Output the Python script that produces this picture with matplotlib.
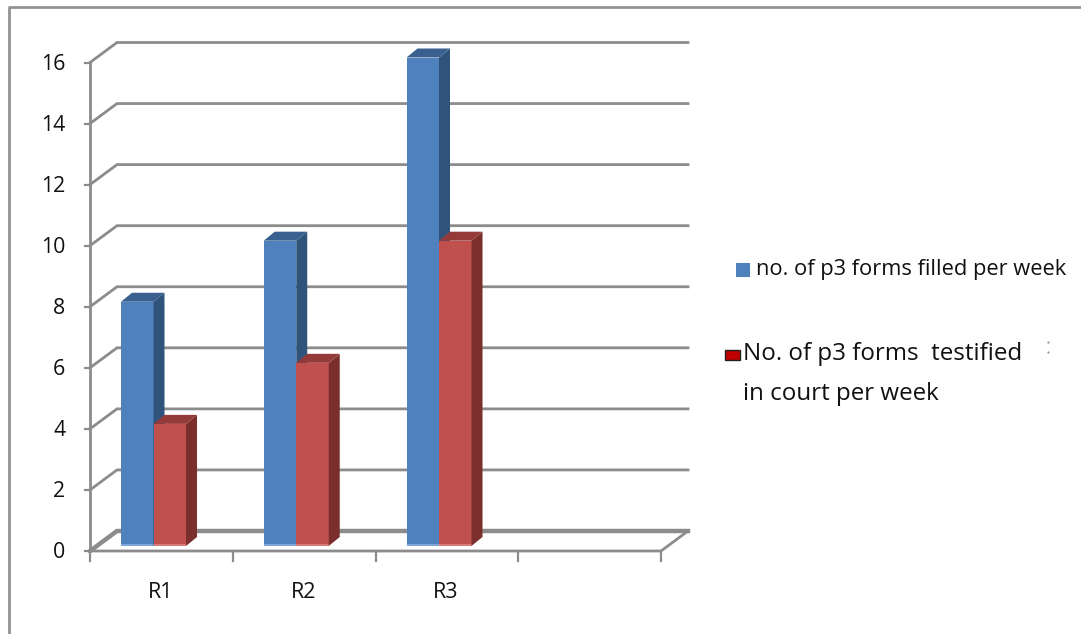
import matplotlib
matplotlib.use("Agg")
import matplotlib.pyplot as plt
from matplotlib.patches import Polygon, Rectangle

categorias = ["R1", "R2", "R3", ""]
preenchidos = [8, 10, 16]
testemunhados = [4, 6, 10]
y_ticks = [0, 2, 4, 6, 8, 10, 12, 14, 16]
legenda_1 = "no. of p3 forms filled per week"
legenda_2 = "No. of p3 forms  testified"
legenda_2b = "in court per week"

plt.rcParams["font.family"] = ["Open Sans", "DejaVu Sans"]

W, H = 1081, 634
fig = plt.figure(figsize=(W / 100, H / 100), dpi=100)

# area do grafico em pixels
x0, x1 = 90, 661
y0, y1 = 551, 62.5
ax = fig.add_axes([x0 / W, 1 - y0 / H, (x1 - x0) / W, (y0 - y1) / H])
ax.set_xlim(0, 4)
ax.set_ylim(0, 16)
ax.axis("off")

px = 4 / (x1 - x0)
py = 16 / (y0 - y1)
dx, dy = 27 * px, 20 * py   # profundidade da parede
bdx, bdy = 11 * px, 9 * py  # profundidade das barras
base = 5 * py
larg = 32.5 * px
margem = 31 * px

cinza = "#8c8c8c"

# grade
for v in y_ticks:
    lw = 3.2 if v == 0 else 2.0
    ax.plot([0, dx, 4 + dx], [v, v + dy, v + dy], color=cinza, lw=lw, clip_on=False,
            solid_joinstyle="miter", zorder=1)
    ax.plot([-5 * px, 0], [v, v], color=cinza, lw=1.6, clip_on=False, zorder=1)

ax.plot([0, 0], [0, 16], color=cinza, lw=2, clip_on=False, zorder=1)
ax.plot([0, 4, 4 + dx], [0, 0, dy], color=cinza, lw=2, clip_on=False, zorder=1)
for i in range(5):
    ax.plot([i, i], [0, -10 * py], color=cinza, lw=1.6, clip_on=False, zorder=1)


def barra_3d(x, v, frente, lado, topo, claro, z):
    ax.bar(x, v, width=larg, bottom=base, align="edge", color=frente, zorder=z, clip_on=False)
    ax.bar(x, 2 * py, width=larg, bottom=base, align="edge", color=claro, zorder=z, clip_on=False)
    t = v + base
    ax.add_patch(Polygon([(x + larg, base), (x + larg + bdx, base + bdy),
                          (x + larg + bdx, t + bdy), (x + larg, t)],
                         color=lado, lw=0, zorder=z, clip_on=False))
    ax.add_patch(Polygon([(x, t), (x + bdx, t + bdy), (x + larg + bdx, t + bdy),
                          (x + larg, t)], color=topo, lw=0, zorder=z, clip_on=False))


for i in range(3):
    x = i + margem
    barra_3d(x, preenchidos[i], "#4f81bd", "#30537c", "#3a6090", "#7ea6d8", 3)
    barra_3d(x + larg, testemunhados[i], "#c0504d", "#7b2f2d", "#943a38", "#d97a78", 4)

# rotulos
for v in y_ticks:
    ax.text(-24.5 * px, v - 2 * py, str(v), ha="right", va="center", fontsize=15.3, color="#111111",
            clip_on=False)
for i, c in enumerate(categorias):
    if c:
        ax.text(i + 0.5 - 1 * px, -42 * py, c, ha="center", va="center", fontsize=15.5,
                color="#111111", clip_on=False)

# moldura e legenda em coordenadas de pixel
tela = fig.add_axes([0, 0, 1, 1], zorder=5)
tela.set_xlim(0, W)
tela.set_ylim(H, 0)
tela.axis("off")
tela.patch.set_alpha(0)
tela.plot([9, 9, W], [H, 7, 7], color="#939393", lw=2)

tela.add_patch(Rectangle((736, 263), 14, 14, color="#4f81bd", lw=0))
tela.text(756, 270, legenda_1, va="center", fontsize=15.75, color="#111111")
tela.add_patch(Rectangle((724.5, 350), 15, 10, facecolor="#c00000", edgecolor="#222222", lw=1))
tela.text(743, 354.5, legenda_2, va="center", fontsize=17.4, color="#111111")
tela.text(743, 393.5, legenda_2b, va="center", fontsize=17.4, color="#111111")
tela.plot([1048, 1048], [342, 352], ls="none", marker="s", ms=0.6, color="#999999")

fig.savefig("out.png", dpi=100)
